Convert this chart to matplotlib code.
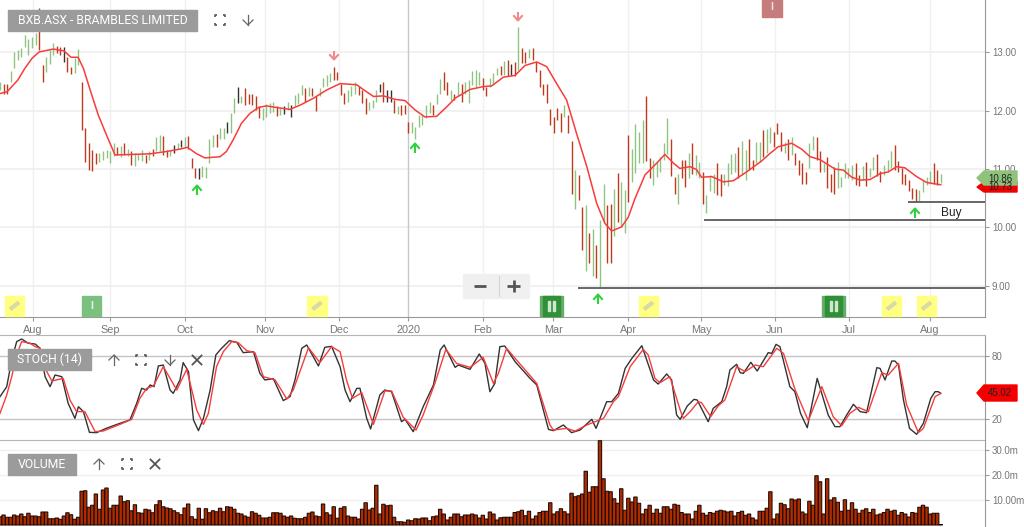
import matplotlib

matplotlib.use("Agg")
import matplotlib.pyplot as plt
from matplotlib.patches import FancyBboxPatch, Polygon, Rectangle

plt.rcParams["font.family"] = ["Liberation Sans", "DejaVu Sans"]

# daily bars
highs = [
    12.49, 12.46, 12.46, 12.68, 13.00, 13.03, 13.07, 13.29, 13.23, 13.25,
    13.32, 13.76, 12.78, 12.92, 13.03, 13.16, 13.10, 13.09, 13.08, 12.92,
    12.75, 12.89, 13.05, 12.49, 11.70, 11.44, 11.32, 11.27, 11.28, 11.30,
    11.32, 11.30, 11.44, 11.38, 11.40, 11.44, 11.35, 11.31, 11.27, 11.26,
    11.32, 11.24, 11.30, 11.35, 11.55, 11.58, 11.56, 11.32, 11.32, 11.41,
    11.44, 11.50, 11.55, 11.56, 11.18, 11.01, 11.01, 11.05, 11.04, 11.52,
    11.58, 11.60, 11.70, 11.70, 11.81, 11.95, 12.21, 12.41, 12.24, 12.38,
    12.29, 12.29, 12.25, 12.08, 12.04, 12.11, 12.12, 12.15, 12.07, 12.04,
    12.07, 12.15, 12.09, 12.26, 12.30, 12.44, 12.38, 12.40, 12.38, 12.24,
    12.38, 12.55, 12.61, 12.64, 12.75, 12.66, 12.46, 12.30, 12.35, 12.42,
    12.48, 12.42, 12.35, 12.21, 12.15, 12.18, 12.35, 12.46, 12.48, 12.35,
    12.35, 12.18, 12.08, 12.09, 12.09, 11.81, 11.81, 11.72, 11.92, 11.92,
    12.09, 12.15, 12.09, 12.29, 12.53, 12.65, 12.49, 12.35, 12.29, 12.48,
    12.46, 12.49, 12.52, 12.68, 12.70, 12.65, 12.55, 12.40, 12.55, 12.64,
    12.73, 12.76, 12.85, 12.86, 12.79, 12.83, 13.42, 13.06, 13.00, 13.05,
    13.06, 12.83, 12.69, 12.46, 12.45, 12.02, 11.89, 12.05, 11.95, 12.09,
    11.92, 11.48, 10.98, 10.90, 10.35, 10.38, 9.91, 9.97, 9.70, 10.12,
    10.74, 10.38, 10.41, 10.65, 10.93, 10.78, 10.64, 11.58, 11.35, 11.77,
    11.64, 11.83, 12.24, 11.18, 11.16, 11.12, 11.21, 11.45, 11.88, 11.52,
    10.87, 10.91, 11.16, 11.15, 11.27, 11.44, 11.24, 11.12, 10.95, 10.55,
    10.90, 10.92, 11.11, 10.91, 10.92, 11.10, 11.26, 11.27, 11.37, 11.48,
    11.32, 11.51, 11.15, 11.47, 11.47, 11.66, 11.68, 11.71, 11.64, 11.78,
    11.64, 11.47, 11.51, 11.54, 11.28, 11.16, 11.10, 10.95, 11.44, 11.56,
    11.54, 11.30, 11.10, 11.21, 10.92, 11.04, 11.12, 10.87, 11.10, 11.01,
    11.07, 11.10, 10.90, 11.05, 11.12, 11.01, 11.21, 11.26, 10.97, 11.07,
    11.15, 11.30, 11.41, 11.14, 11.01, 10.92, 10.82, 10.67, 10.65, 10.64,
    10.81, 10.87, 10.97, 11.11, 10.98, 10.91,
]
lows = [
    12.35, 12.28, 12.29, 12.48, 12.72, 12.86, 12.91, 13.09, 12.95, 13.06,
    13.12, 13.03, 12.49, 12.66, 12.79, 12.95, 12.98, 12.95, 12.83, 12.65,
    12.62, 12.64, 12.78, 11.67, 11.12, 10.98, 10.97, 11.09, 11.12, 11.15,
    11.18, 11.10, 11.22, 11.24, 11.21, 11.24, 11.22, 11.07, 11.05, 11.15,
    11.14, 11.11, 11.15, 11.22, 11.31, 11.30, 11.24, 11.20, 11.22, 11.28,
    11.35, 11.37, 11.38, 11.35, 11.01, 10.84, 10.83, 10.87, 10.84, 11.10,
    11.38, 11.38, 11.52, 11.52, 11.62, 11.62, 11.95, 12.12, 12.12, 12.09,
    12.11, 12.09, 12.01, 11.87, 11.84, 11.89, 11.95, 11.98, 11.91, 11.92,
    11.94, 12.01, 11.89, 12.07, 12.11, 12.26, 12.15, 12.24, 12.24, 12.00,
    12.24, 12.40, 12.42, 12.49, 12.52, 12.52, 12.26, 12.11, 12.15, 12.24,
    12.29, 12.26, 12.12, 11.94, 12.01, 12.05, 12.15, 12.32, 12.15, 12.15,
    12.15, 11.95, 11.94, 11.92, 11.94, 11.61, 11.61, 11.52, 11.72, 11.75,
    11.87, 11.95, 11.92, 12.11, 12.29, 12.35, 12.26, 12.18, 12.18, 12.24,
    12.15, 12.29, 12.13, 12.44, 12.41, 12.44, 12.35, 12.24, 12.40, 12.46,
    12.61, 12.61, 12.61, 12.59, 12.61, 12.59, 12.69, 12.81, 12.82, 12.89,
    12.86, 12.65, 12.40, 12.26, 12.12, 11.75, 11.62, 11.84, 11.64, 11.89,
    11.61, 10.58, 10.31, 10.47, 9.61, 9.26, 9.40, 9.17, 9.13, 8.98,
    10.10, 9.40, 9.40, 9.85, 10.10, 10.01, 9.91, 10.44, 10.77, 10.93,
    11.10, 11.10, 11.14, 10.84, 10.73, 10.87, 10.95, 11.15, 11.26, 10.88,
    10.57, 10.41, 10.84, 10.70, 10.84, 10.91, 10.90, 10.84, 10.40, 10.25,
    10.63, 10.59, 10.55, 10.54, 10.73, 10.71, 10.92, 10.95, 10.84, 10.90,
    10.82, 10.98, 10.98, 11.10, 11.12, 11.20, 11.27, 11.44, 11.38, 11.59,
    11.30, 11.27, 11.15, 11.24, 11.07, 10.90, 10.75, 10.75, 11.01, 11.32,
    11.15, 10.95, 10.95, 10.67, 10.61, 10.57, 10.67, 10.69, 10.84, 10.84,
    10.81, 10.73, 10.71, 10.82, 10.71, 10.87, 10.98, 10.88, 10.78, 10.90,
    10.95, 11.01, 10.98, 10.95, 10.75, 10.73, 10.63, 10.48, 10.44, 10.46,
    10.61, 10.73, 10.75, 10.75, 10.73, 10.76,
]
# g = up, r = down, k = unchanged
bar_kinds = (
    "grrggggggg" "grrgggrrkr" "rggrrrrrgg" "gggrgrgrgg" "grgrggrrgk"
    "gkgrrrkggg" "grggkggkgr" "rrrrggggrg" "kgkgggrgrr" "ggggrrrrgg"
    "grrrgggkrk" "krgrrrgggg" "ggrggrrgrg" "rgggggrrgg" "grgrkrgrrg"
    "rrrrrrrrrg" "rrgrrgrgrg" "grrgrggrgg" "ggrrgggggr" "rgrrgrggrg"
    "ggrrggggrg" "grrggrggrr" "rgrgrrrrgg" "rrgrrrgggg" "grrgrggrrg"
    "ggrrrrrrrg" "gggrrg"
)

# moving average, sampled where the curve bends
ma_bars = [
    0, 2, 5, 7, 9, 11, 15, 18, 20, 22, 23.5, 25.4, 27.7, 30, 32.4, 37.6, 42.3, 47, 50.7, 52.8,
    55.4, 57.7, 62, 63.8, 65.7, 68, 70.4, 72.8, 75, 78, 81.7, 84.5, 88.3, 92, 95.8,
    100.5, 102.3, 105.2, 108, 111.3, 114.1, 116.9, 119.7, 123, 125.8, 128.2, 132.4, 136.2, 138.5,
    141.8, 145.1, 147.9, 151.2, 154, 156.8, 159.6, 162.4, 165.3, 168.1, 170.4, 172.3, 175.1, 177,
    178.9, 181.7, 184.5, 187.3, 189.7, 191.5,
    194.4, 196.2, 197.6, 200.5, 203.8, 206.6, 210.3, 214.6, 216.4, 219.2, 223, 225.8, 228.2, 231,
    235.2, 237.6, 239.9, 242.3, 245.1, 247.9, 250.2, 252.6, 254.9, 258.2, 261, 265,
]
ma_vals = [
    12.29, 12.32, 12.52, 12.72, 12.89, 13.00, 13.05, 13.02, 12.91, 12.91, 12.72, 12.35, 11.92, 11.58,
    11.24, 11.25, 11.26, 11.30, 11.34, 11.37, 11.26, 11.19, 11.21, 11.30, 11.50, 11.78, 11.95, 12.05,
    12.08, 12.05, 12.02, 12.09, 12.21, 12.35, 12.46,
    12.44, 12.36, 12.24, 12.25, 12.19, 12.17, 12.01, 11.89, 11.90, 12.06, 12.21, 12.36, 12.41, 12.42,
    12.57, 12.60, 12.77, 12.83, 12.75, 12.46, 12.18, 11.61, 11.04, 10.41, 10.07, 9.94, 10.01, 10.18,
    10.50, 10.90, 11.07, 11.25, 11.10, 11.01,
    11.04, 10.99, 10.86, 10.87, 10.78, 10.80, 10.95, 11.14, 11.24, 11.38, 11.44, 11.34, 11.21, 11.16,
    11.00, 10.98, 10.86, 10.81, 10.82, 10.92, 10.95, 11.04, 11.02, 10.87, 10.77, 10.73,
]

# stochastic %K (black) and %D (red), vertices as read
k_bars = [
    0, 1.9, 3.3, 4.7, 6.1, 8, 9.9, 11.3, 12.7, 14.1, 15.5, 17.4, 19.2, 21.1, 22.1, 23.5, 25.2, 27.2,
    29.9, 33.8, 36.6, 38.5, 39.9, 41.3, 42.3, 43.4, 44.6, 46, 47.9, 48.8, 50.7, 51.6, 53.1, 54.5,
    55.9, 57.3, 59.2, 60.8, 62.4, 64.6, 66.7, 68.5, 71.4, 73.2, 74.6, 77, 79.8, 81.7, 83.1, 85,
    86.4, 89.7, 91.5, 93.4,
    95.8, 97.2, 98.6, 100.5, 101.4, 103.3, 104.4, 107, 108.4, 110.3, 113.1, 114.1, 116.4, 119.2,
    122.1, 124, 125.1, 128.2, 129.1, 132.4, 135, 136.6, 138, 139.4, 140.8, 142.2, 145.1, 149.3,
    151.2, 154.5, 155.9, 158.7, 161, 163.4, 166.7, 167.9, 170.9, 172.3, 174.2, 176.1, 178, 180.8,
    184.1, 185.4, 187.8, 189.2, 190.6,
    191.6, 193.6, 195.5, 196.4, 199.5, 200.9, 203.3, 204.7, 205.6, 207.5, 208.5, 209.4, 211.5,
    213.3, 216.4, 217.4, 218.6, 219.7, 222.5, 223.9, 225.5, 227.4, 230.2, 233.3, 235.2, 236.6,
    238.5, 240.4, 242.3, 244.1, 247, 247.9, 249.3, 251.2, 252.1, 253.1, 254.5, 256.2, 258.2, 260.1,
    262.2, 263.4, 264.3, 265,
]
k_vals = [
    41.3, 50.8, 76.2, 93.7, 96.2, 92.1, 91.4, 87.3, 60.3, 50.8, 61.9, 60.3, 34.9, 20.6, 31.7, 27,
    7.3, 7, 11.1, 15.9, 19.1, 34.9, 49.2, 47.6, 52.4, 50.8, 70.5, 71.4, 47.6, 44.4, 57.2, 73.7,
    65.1, 19.1, 8.9, 20.6, 47.6, 81, 87.3, 94.6, 93, 83.2, 84.1, 63.5, 57.2, 58.4, 37.5, 41.3, 57.2,
    87.3, 90.5, 70.5, 88.3, 89.2,
    69.8, 47.6, 36.5, 49.2, 49.2, 20.6, 10.5, 42.9, 47.6, 46, 17.4, 19.7, 7.9, 31.7, 52.4, 85.7,
    90.5, 69.2, 71.4, 67.3, 81.9, 73, 46, 54, 88.9, 89.5, 74.6, 58.7, 52.4, 10.1, 8.9, 14.3, 7, 9.5,
    19.7, 11.1, 36.5, 36.5, 44.4, 68.2, 77.8, 89.8, 57.2, 53.3, 62.9, 57.2, 23.8,
    19.7, 32.4, 38.7, 38.1, 17.4, 30.1, 36.5, 50.8, 66.7, 72.1, 64.1, 63.5, 74, 65.7, 83.2, 82.5,
    91.1, 88.9, 50.8, 46, 25.4, 11.7, 58.7, 23.8, 12.7, 12.7, 23.8, 34, 27, 26, 68.9, 68.2, 57.2,
    75.2, 75.2, 71.4, 38.1, 11.1, 5.4, 15.9, 39.7, 46, 46, 44.4,
]
d_bars = [
    0, 1.9, 3.3, 4.7, 6.1, 8.5, 9.9, 11.3, 12.7, 14.6, 17.8, 19.7, 21.6, 23.9, 26.8, 29.1, 33.8,
    37.1, 39.4, 41.3, 43.2, 46, 49.8, 52.6, 55.4, 57.3, 58.7, 61, 62.9, 65.3, 67.1, 69.5, 71.8,
    74.2, 77.5, 80.8, 82.6, 86.9, 90.1, 93.4,
    95.8, 97.6, 99.3, 101.9, 105.2, 108.4, 110.3, 113.6, 117.2, 119.2, 122.5, 125.6, 128.6, 132.4,
    136.1, 139, 140.4, 142.7, 145.5, 151.2, 154.9, 155.9, 159.6, 162, 165.3, 170, 172.8, 174.2,
    177.5, 181.2, 182.6, 184.5, 185.9, 188.7,
    191.6, 192.5, 194.4, 196.7, 197.6, 200.2, 202.3, 204.2, 207.5, 209.9, 212.7, 215, 218.8, 220.7,
    224, 227.7, 231.5, 234.7, 237.1, 239.4, 241.8, 244.6, 248.4, 250.2, 253.1, 255.4, 258.7, 260.1,
    263.4, 265,
]
d_vals = [
    25.4, 42.9, 60.3, 81, 93.7, 92.1, 88.9, 87.3, 68.3, 56.2, 58.7, 38.1, 27, 27, 7.9, 8.6, 14.9,
    19.7, 39.7, 49.2, 51.4, 69.9, 47.6, 67.3, 28.6, 14.9, 25.4, 69.9, 84.1, 93.7, 92.7, 85.1, 83.2,
    60.3, 57.2, 39, 47.6, 87.9, 73.7, 88.9,
    84.1, 57.2, 39.7, 45.1, 14.9, 46.7, 46.7, 21.6, 9.5, 23.8, 54, 86.3, 73, 69.2, 78.7, 54, 63.5,
    87.3, 76.2, 54, 14.3, 9.5, 11.1, 8.5, 14.3, 20.6, 36.5, 41.3, 69.8, 86.3, 81, 58.7, 54.6, 60.3,
    28.6, 20.6, 27, 36.5, 35.6, 22.2, 32.4, 38.1, 69.8, 65.1, 71.4, 69.8, 87.3, 82.5, 47.6, 18.4,
    50.8, 22.2, 13.6, 25.4, 31.1, 27, 64.1, 61.9, 73, 33.3, 7, 11.1, 41.3, 44.4,
]

# volume in millions
volumes = [
    3.3, 4.0, 3.1, 3.1, 4.0, 3.6, 4.4, 3.3, 4.7, 3.6, 3.6, 3.3, 5.2, 5.2, 2.5, 2.5, 2.8, 2.3, 3.6, 4.9,
    4.1, 2.3, 3.1, 13.5, 13.7, 7.1, 7.9, 12.4, 6.3, 14.0, 14.8, 6.7, 7.9, 7.9, 11.6, 9.3, 9.7, 5.7, 8.1, 4.9,
    4.7, 6.3, 6.0, 4.9, 8.1, 9.7, 7.3, 6.8, 6.5, 5.7, 4.9, 4.1, 6.8, 8.4, 3.3, 2.3, 6.7, 2.3, 6.5, 4.9,
    5.7, 5.3, 6.7, 5.3, 7.3, 7.1, 6.3, 4.7, 4.4, 3.6, 3.1, 5.3, 4.7, 3.9, 2.8, 2.8, 3.1, 4.9, 4.9, 4.7,
    3.6, 3.1, 3.6, 2.7, 2.5, 2.5, 3.1, 4.7, 5.2, 3.6, 3.3, 8.4, 4.9, 4.0, 7.3, 2.7,
    6.7, 7.3, 3.6, 3.1, 3.1, 2.4, 6.3, 8.9, 6.0, 6.7, 15.9, 4.4, 8.3, 7.7, 7.9, 3.1, 1.3, 1.3, 1.1, 2.0,
    1.7, 2.5, 2.4, 2.8, 2.8, 1.7, 3.3, 3.6, 6.3, 4.4, 2.0, 3.1, 4.4, 4.4, 3.3, 4.0, 4.0, 4.4, 4.0,
    2.8, 3.9, 2.4, 5.2, 4.4, 2.0, 2.9, 3.1, 3.1, 3.1, 5.0, 5.3, 5.9, 3.7, 5.5, 2.4, 3.6, 5.0, 5.5, 5.5,
    8.9, 4.4, 5.3, 6.5, 5.3, 4.4, 12.7, 11.3, 11.7, 12.4, 21.5, 13.1, 15.3, 15.3, 33.7, 18.5, 13.5, 13.3,
    10.5, 8.7, 14.5, 5.9, 10.7, 9.2, 11.2, 8.7, 4.4, 6.3, 7.9, 4.7, 6.3, 4.7, 7.3, 7.3, 6.3, 8.3,
    7.9, 5.0, 4.4, 4.4, 2.4, 5.5, 7.9, 4.7, 3.9, 5.0, 4.7, 5.5, 5.9, 5.6, 5.2, 5.5, 3.6, 5.0, 5.5, 3.9,
    4.4, 2.8, 2.0, 5.5, 5.5, 6.7, 13.3, 2.4, 4.4, 8.7, 8.1, 6.5, 10.4, 10.0, 10.4, 5.2, 4.4, 9.5, 7.9, 19.7,
    17.3, 4.4, 18.5, 10.0, 10.9, 9.1, 5.5, 10.1, 5.9, 8.9, 6.3, 4.7, 5.9, 6.5, 5.0, 6.3, 4.0, 4.4, 5.0, 6.3,
    5.5, 5.9, 3.9, 5.0, 4.4, 3.2, 5.0, 4.7, 7.1, 7.9, 7.1, 4.4, 4.7, 4.7, 0.2,
]

month_labels = ["Aug", "Sep", "Oct", "Nov", "Dec", "2020", "Feb", "Mar", "Apr", "May", "Jun", "Jul", "Aug"]
month_bars = [9.3, 31, 52, 74.6, 95.5, 115, 136, 155.8, 177, 197.5, 218.3, 239.2, 262]

price_ticks = [9, 10, 11, 12, 13]
price_tick_labels = ["9.00", "10.00", "11.00", "12.00", "13.00"]
stoch_ticks = [20, 80]
volume_ticks = [10, 20, 30]
volume_tick_labels = ["10.00m", "20.0m", "30.0m"]

# drawn support lines: first bar, price
support_starts = [163, 198.5, 256]
support_levels = [8.96, 10.12, 10.44]

W, H = 1024, 527
RIGHT = 985
BAR_PX = 3.55
GREEN = "#8fc383"
RED = "#bd3a1c"
DARK = "#333333"
BADGE = "#9b9b9b"
ICON = "#666666"
TICK_TXT = "#777777"
AXIS = "#b5b5b5"
AXIS_DARK = "#999999"
FAINT = "#f0f0f0"
LINE_RED = "#f83c3c"


def pane(top, bottom):
    ax = fig.add_axes([0, 1 - bottom / H, RIGHT / W, (bottom - top) / H])
    ax.set_xlim(0, RIGHT / BAR_PX)
    ax.patch.set_alpha(0)
    for side in ["top", "left"]:
        ax.spines[side].set_visible(False)
    ax.spines["right"].set_color(AXIS_DARK)
    ax.spines["bottom"].set_color(AXIS)
    ax.yaxis.tick_right()
    ax.tick_params(axis="y", length=3, width=0.8, color=AXIS_DARK, labelsize=7, labelcolor=TICK_TXT, pad=2)
    ax.tick_params(axis="x", length=0)
    ax.set_xticks([])
    return ax


fig = plt.figure(figsize=(W / 100, H / 100), dpi=100)

# price pane
ax = pane(0, 317)
ax.set_ylim(8.47, 13.889)
ax.set_yticks(price_ticks, price_tick_labels)
ax.spines["bottom"].set_color(AXIS_DARK)
for level in price_ticks:
    ax.axhline(level, color=FAINT, lw=1.3, zorder=0)
for m, label in zip(month_bars, month_labels):
    ax.axvline(m, color="#c8c8c8" if label == "2020" else FAINT, lw=1, zorder=0)
ax.set_xticks(month_bars, month_labels)
ax.tick_params(axis="x", length=3, width=0.8, color=AXIS_DARK, labelsize=7.8, labelcolor=TICK_TXT, pad=3)

kind_colors = {"g": GREEN, "r": RED, "k": DARK}
colors = [kind_colors[c] for c in bar_kinds]
assert len(highs) == len(lows) == len(colors)
ax.vlines(range(len(highs)), lows, highs, colors=colors, lw=1.0, zorder=2)
ax.plot(ma_bars, ma_vals, color=LINE_RED, lw=1.1, zorder=3)
for start, level in zip(support_starts, support_levels):
    ax.plot([start, RIGHT / BAR_PX], [level, level], color="#666666", lw=1.4, zorder=3)
ax.text(268, 10.25, "Buy", fontsize=8.6, color="#222222", ha="center", va="center")

# stochastic pane
ax2 = pane(335, 440)
ax2.set_ylim(0, 100)
ax2.set_yticks(stoch_ticks, ["20", "80"])
ax2.spines["top"].set_visible(True)
ax2.spines["top"].set_color(AXIS)
for level in stoch_ticks:
    ax2.axhline(level, color="#c4c4c4", lw=1, zorder=0)
ax2.plot(k_bars, k_vals, color="#333333", lw=1.0, zorder=2)
ax2.plot(d_bars, d_vals, color=LINE_RED, lw=1.0, zorder=3)

# volume pane
ax3 = pane(440, 527)
ax3.set_ylim(-0.8, 34)
ax3.set_yticks(volume_ticks, volume_tick_labels)
ax3.spines["bottom"].set_visible(False)
for level in volume_ticks:
    ax3.axhline(level, color=FAINT, lw=1, zorder=0)
vol_bars = ax3.bar(range(len(volumes)), volumes, width=0.95, color="#b02c00", edgecolor="#1a0a05", lw=0.75, zorder=2)
for patch in vol_bars:
    patch.set_snap(False)

# overlay in pixel coordinates for the chart furniture
ui = fig.add_axes([0, 0, 1, 1])
ui.set_xlim(0, W)
ui.set_ylim(H, 0)
ui.axis("off")
ui.patch.set_alpha(0)


def badge(x0, y0, x1, y1, label, size=8.8):
    ui.add_patch(Rectangle((x0, y0), x1 - x0, y1 - y0, color=BADGE, zorder=5))
    ui.text((x0 + x1) / 2, (y0 + y1) / 2 + 0.3, label, color="white", fontsize=size, family="Roboto",
            ha="center", va="center", zorder=6)


def icon_up(x, y, flip=1):
    ui.plot([x, x], [y - 5 * flip, y + 5 * flip], color=ICON, lw=0.9)
    ui.plot([x - 5, x, x + 5], [y, y - 5 * flip, y], color=ICON, lw=0.9)


def icon_full(x, y):
    r, c = 5, 2
    for sx in (-1, 1):
        for sy in (-1, 1):
            ui.plot([x + sx * r, x + sx * r, x + sx * (r - c)], [y + sy * (r - c), y + sy * r, y + sy * r],
                    color="#555555", lw=1.2, solid_capstyle="butt")


def icon_x(x, y):
    ui.plot([x - 4.5, x + 4.5], [y - 4.5, y + 4.5], color="#555555", lw=1.3)
    ui.plot([x - 4.5, x + 4.5], [y + 4.5, y - 4.5], color="#555555", lw=1.3)


def signal(x, y, color, down=False):
    s = -1 if down else 1
    ui.plot([x, x], [y - 4.5 * s, y + 4.5 * s], color=color, lw=1.5, solid_capstyle="butt")
    ui.plot([x - 4, x, x + 4], [y, y - 4.5 * s, y], color=color, lw=1.5)


def note(x0, x1):
    ui.add_patch(Rectangle((x0, 296), x1 - x0, 19.5, color="#ffff80", zorder=5))
    cx, cy = (x0 + x1) / 2, 305.8
    ui.plot([cx - 4.5, cx + 4.5], [cy + 3.5, cy - 3.5], color="#d8d8a8", lw=3, zorder=6, solid_capstyle="butt")


def flag(x0, x1, color, label):
    ui.add_patch(Rectangle((x0, 296), x1 - x0, 19.5, color=color, zorder=5))
    ui.text((x0 + x1) / 2, 305.8, label, color="#e8f4e8", fontsize=7.5, ha="center", va="center", zorder=6,
            fontweight="bold")


def double_flag(x0, x1):
    ui.add_patch(Rectangle((x0, 296), x1 - x0, 19.5, color="#63ae68", zorder=5))
    ui.add_patch(Rectangle((x0 + 3, 296), x1 - x0 - 6, 19.5, color="#2f9037", zorder=5))
    cx = (x0 + x1) / 2
    ui.add_patch(Rectangle((cx - 3.2, 301), 2, 10, color="#cfe6cf", zorder=6))
    ui.add_patch(Rectangle((cx + 1.2, 301), 2, 10, color="#cfe6cf", zorder=6))


def price_tag(y, y0, y1, color, label):
    pts = [(977, y), (984, y0), (1017, y0), (1017, y1), (984, y1)]
    ui.add_patch(Polygon(pts, closed=True, color=color, zorder=7))
    ui.text(1000, y + 0.5, label, fontsize=7, color="#222222", ha="center", va="center", zorder=8)


badge(8, 10, 197, 31, "BXB.ASX - BRAMBLES LIMITED")
icon_full(220, 20)
icon_up(248, 20, flip=-1)

badge(8, 349, 91, 370, "STOCH (14)")
icon_up(114, 360)
icon_full(141, 360)
icon_up(170, 360, flip=-1)
icon_x(197, 360)

badge(8, 454, 76, 475, "VOLUME")
icon_up(99, 464)
icon_full(127, 464)
icon_x(155, 464)

for x, y in [(197, 190), (415, 148), (598, 299), (915, 213)]:
    signal(x, y, "#2fd13c")
for x, y in [(334, 55), (518, 16)]:
    signal(x, y, "#f08a8a", down=True)

for x0, x1 in [(5, 24), (307, 327), (639, 658), (882, 901), (917, 936)]:
    note(x0, x1)
flag(82, 101, "#7cc080", "I")
double_flag(540, 563)
double_flag(822, 845)
ui.add_patch(Rectangle((762, 0), 19.5, 17, color="#c47c7c", zorder=5))
ui.text(771.7, 7.5, "I", color="#f2e2e2", fontsize=7.5, ha="center", va="center", zorder=6, fontweight="bold")

# zoom control
ui.add_patch(FancyBboxPatch((465, 276), 63, 21, boxstyle="round,pad=1.5", color="#f0f0f0", zorder=5))
ui.plot([474, 486], [286, 286], color="#555555", lw=2, zorder=6, solid_capstyle="butt")
ui.plot([498.5, 498.5], [276, 296], color="#d5d5d5", lw=0.8, zorder=6)
ui.plot([507, 520], [286, 286], color="#555555", lw=2, zorder=6, solid_capstyle="butt")
ui.plot([513.5, 513.5], [280, 292], color="#555555", lw=2, zorder=6, solid_capstyle="butt")

# last value tags
price_tag(187, 182, 192, "#f00000", "10.73")
price_tag(178, 171, 185, "#8fc27a", "10.86")
price_tag(393, 385, 401, "#f50000", "45.02")

fig.savefig("out.png", dpi=100)
